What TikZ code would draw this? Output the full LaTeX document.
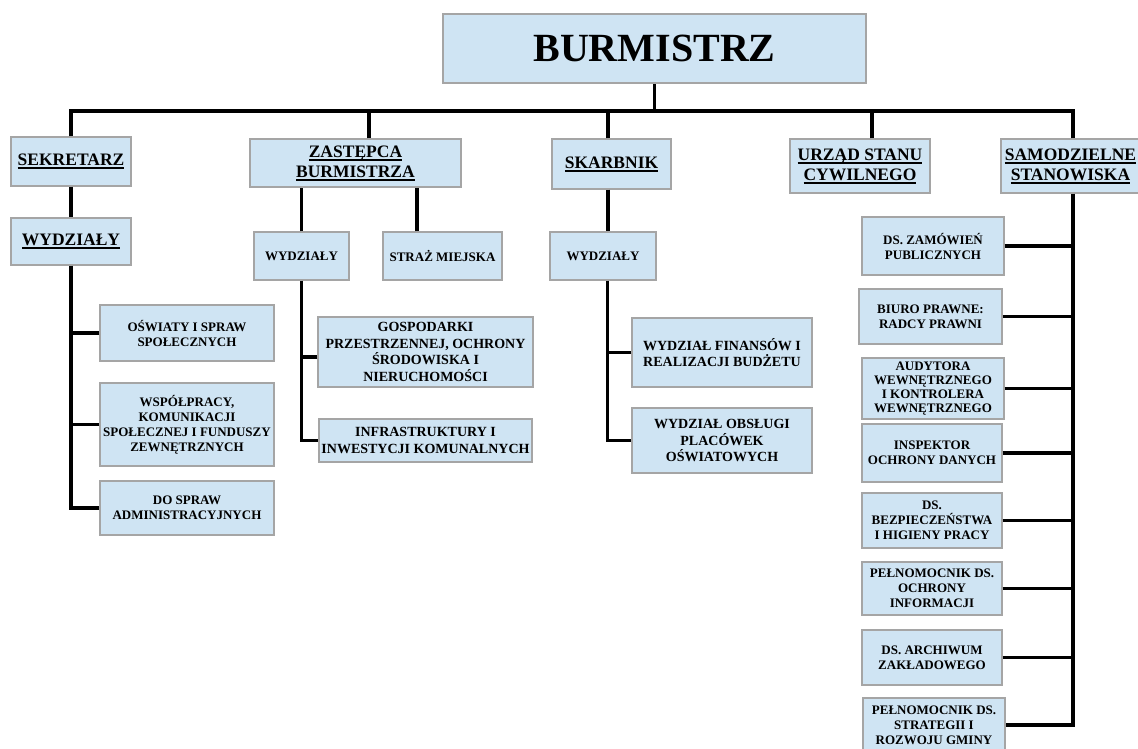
\documentclass[tikz,border=0pt]{standalone}
\usepackage{fontspec}
\setmainfont{Liberation Serif}
\definecolor{niebieski}{RGB}{207,228,243}
\definecolor{ramka}{RGB}{165,165,165}
\newcommand\podkr[1]{\setbox0=\hbox{#1}\leavevmode\rlap{\rule[-3.5pt]{\wd0}{1.8pt}}\box0}
\begin{document}
\begin{tikzpicture}[x=1pt,y=-1pt,
  pole/.style={draw=ramka,fill=niebieski,line width=1.2pt,inner sep=0pt,align=center},
  szef/.style={pole,font=\fontsize{17.5}{20}\selectfont\bfseries},
  maly/.style={pole,font=\fontsize{13}{15}\selectfont\bfseries},
  sredni/.style={pole,font=\fontsize{14}{16.5}\selectfont\bfseries},
  linia/.style={line width=3.2pt}]
\clip (0,0) rectangle (1138,749);
\fill[white] (0,0) rectangle (1138,749);
\node[pole,minimum width=423,minimum height=69,font=\fontsize{40}{44}\selectfont\bfseries] (burm) at (654.5,48.5) {BURMISTRZ};
%
\node[szef,minimum width=120,minimum height=49] (sekr) at (71,161.5) {\podkr{SEKRETARZ}};
\node[szef,minimum width=120,minimum height=47] (wyd1) at (71,241.5) {\podkr{WYDZIAŁY}};
\node[maly,minimum width=174,minimum height=56] (oswiaty) at (187,333) {OŚWIATY I SPRAW\\SPOŁECZNYCH};
\node[maly,minimum width=174,minimum height=83] (wspol) at (187,424.5) {WSPÓŁPRACY,\\KOMUNIKACJI\\SPOŁECZNEJ I FUNDUSZY\\ZEWNĘTRZNYCH};
\node[maly,minimum width=174,minimum height=54] (admin) at (187,508) {DO SPRAW\\ADMINISTRACYJNYCH};
%
\node[szef,minimum width=211,minimum height=48] (zast) at (355.5,163) {\podkr{ZASTĘPCA}\\\podkr{BURMISTRZA}};
\node[maly,minimum width=95,minimum height=48] (wyd2) at (301.5,256) {WYDZIAŁY};
\node[maly,minimum width=119,minimum height=48] (straz) at (442.5,256) {STRAŻ MIEJSKA};
\node[sredni,minimum width=215,minimum height=70] (gosp) at (425.5,352) {GOSPODARKI\\PRZESTRZENNEJ, OCHRONY\\ŚRODOWISKA I\\NIERUCHOMOŚCI};
\node[sredni,minimum width=213,minimum height=43] (infra) at (425.5,440.5) {INFRASTRUKTURY I\\INWESTYCJI KOMUNALNYCH};
%
\node[szef,minimum width=119,minimum height=50] (skarb) at (611.5,164) {\podkr{SKARBNIK}};
\node[maly,minimum width=106,minimum height=48] (wyd3) at (603,256) {WYDZIAŁY};
\node[sredni,minimum width=180,minimum height=69] (finans) at (722,352.5) {WYDZIAŁ FINANSÓW I\\REALIZACJI BUDŻETU};
\node[sredni,minimum width=180,minimum height=65] (obsl) at (722,440.5) {WYDZIAŁ OBSŁUGI\\PLACÓWEK\\OŚWIATOWYCH};
%
\node[szef,minimum width=140,minimum height=54] (usc) at (860,166) {\podkr{URZĄD STANU}\\\podkr{CYWILNEGO}};
\node[szef,minimum width=139,minimum height=54] (samo) at (1070.5,166) {\podkr{SAMODZIELNE}\\\podkr{STANOWISKA}};
\node[maly,minimum width=142,minimum height=58] (zam) at (933,246) {DS. ZAMÓWIEŃ\\PUBLICZNYCH};
\node[maly,minimum width=143,minimum height=55] (biuro) at (930.5,316.5) {BIURO PRAWNE:\\RADCY PRAWNI};
\node[maly,minimum width=142,minimum height=61,font=\fontsize{13}{14}\selectfont\bfseries] (audyt) at (933,388.5) {AUDYTORA\\WEWNĘTRZNEGO\\I KONTROLERA\\WEWNĘTRZNEGO};
\node[maly,minimum width=140,minimum height=58] (inspek) at (932,453) {INSPEKTOR\\OCHRONY DANYCH};
\node[maly,minimum width=140,minimum height=55] (bhp) at (932,520.5) {DS.\\BEZPIECZEŃSTWA\\I HIGIENY PRACY};
\node[maly,minimum width=140,minimum height=53] (ochrinf) at (932,588.5) {PEŁNOMOCNIK DS.\\OCHRONY\\INFORMACJI};
\node[maly,minimum width=140,minimum height=55] (archiw) at (932,657.5) {DS. ARCHIWUM\\ZAKŁADOWEGO};
\node[maly,minimum width=142,minimum height=54] (strat) at (934,725) {PEŁNOMOCNIK DS.\\STRATEGII I\\ROZWOJU GMINY};
%
\coordinate (szyna) at (654.5,111);
\draw[linia] (sekr.north) |- (szyna) -- (burm.south);
\draw[linia] ([xshift=2.5pt]samo.north) |- (szyna);
\draw[linia] ([xshift=13.5pt]zast.north) -- ([xshift=13.5pt]zast.north |- szyna);
\draw[linia] ([xshift=-3.5pt]skarb.north) -- ([xshift=-3.5pt]skarb.north |- szyna);
\draw[linia] ([xshift=12pt]usc.north) -- ([xshift=12pt]usc.north |- szyna);
%
\draw[linia] (sekr.south) -- (wyd1.north);
\draw[linia] (wyd1.south) |- (admin.west);
\draw[linia] (oswiaty.west) -- (oswiaty.west -| wyd1.south);
\draw[linia] (wspol.west) -- (wspol.west -| wyd1.south);
%
\draw[linia] (wyd2.north) -- (wyd2.north |- zast.south);
\draw[linia] ([xshift=-25.5pt]straz.north) -- ([xshift=-25.5pt]straz.north |- zast.south);
\draw[linia] (wyd2.south) |- (infra.west);
\draw[linia] ([yshift=-5pt]gosp.west) -- ([yshift=-5pt]gosp.west -| wyd2.south);
%
\coordinate (pien3) at ([xshift=4.5pt]wyd3.south);
\draw[linia] ([xshift=-3.5pt]skarb.south) -- ([xshift=-3.5pt]skarb.south |- wyd3.north);
\draw[linia] (pien3) |- (obsl.west);
\draw[linia] (finans.west) -- (finans.west -| pien3);
%
\coordinate (pien5) at ([xshift=2.5pt]samo.south);
\draw[linia] (pien5) |- (strat.east);
\foreach \n in {zam,biuro,audyt,inspek,bhp,ochrinf,archiw}
  \draw[linia] (\n.east) -- (\n.east -| pien5);
\end{tikzpicture}
\end{document}
